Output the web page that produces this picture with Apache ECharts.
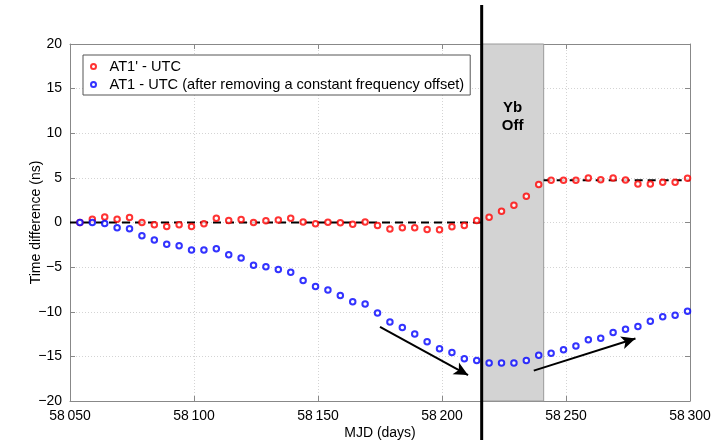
<!DOCTYPE html>
<html>
<head>
<meta charset="utf-8">
<script src="https://cdn.jsdelivr.net/npm/echarts@6/dist/echarts.min.js"></script>
<style>
  html, body { margin: 0; padding: 0; background: #fff; }
  #chart { width: 715px; height: 445px; }
</style>
</head>
<body>
<div id="chart"></div>
<script>
// MJD sampling dates (every 5 days)
const mjd = [
  58054, 58059, 58064, 58069, 58074, 58079, 58084, 58089, 58094, 58099,
  58104, 58109, 58114, 58119, 58124, 58129, 58134, 58139, 58144, 58149,
  58154, 58159, 58164, 58169, 58174, 58179, 58184, 58189, 58194, 58199,
  58204, 58209, 58214, 58219, 58224, 58229, 58234, 58239, 58244, 58249,
  58254, 58259, 58264, 58269, 58274, 58279, 58284, 58289, 58294, 58299
];
// AT1' - UTC (ns)
const at1Prime = [
  0, 0.37, 0.63, 0.37, 0.56, 0, -0.26, -0.45, -0.26, -0.45,
  -0.15, 0.48, 0.22, 0.33, 0, 0.19, 0.28, 0.48, 0.07, -0.15,
  0.04, -0.04, -0.19, 0.07, -0.33, -0.74, -0.59, -0.59, -0.78, -0.82,
  -0.48, -0.33, 0.22, 0.6, 1.27, 1.94, 2.94, 4.25, 4.73, 4.73,
  4.73, 4.98, 4.8, 4.98, 4.76, 4.31, 4.31, 4.5, 4.5, 4.95
];
// AT1 - UTC after removing a constant frequency offset (ns)
const at1 = [
  0, 0, -0.11, -0.59, -0.71, -1.49, -1.97, -2.45, -2.6, -3.09,
  -3.08, -2.95, -3.62, -3.97, -4.8, -4.95, -5.27, -5.57, -6.5, -7.17,
  -7.57, -8.17, -8.87, -9.13, -10.13, -11.14, -11.77, -12.48, -13.37, -14.15,
  -14.56, -15.26, -15.47, -15.75, -15.75, -15.75, -15.45, -14.86, -14.64, -14.26,
  -13.85, -13.15, -12.96, -12.33, -11.96, -11.66, -11.07, -10.55, -10.4, -9.95
];
// constant fits (dashed)
const fitBefore = [[58050, 0], [58216, 0]];
const fitAfter = [[58241, 4.73], [58300, 4.73]];
// Yb off interval
const ybOff = [58216, 58241];
// arrows [from, to]
const arrowDown = [[58175, -11.7], [58210.5, -17.1]];
const arrowUp = [[58237, -16.6], [58278, -13.0]];
// axis ticks
const xTicks = [58050, 58100, 58150, 58200, 58250, 58300];
const yTicks = [-20, -15, -10, -5, 0, 5, 10, 15, 20];

const font = "'Liberation Sans', Arial, sans-serif";
const chart = echarts.init(document.getElementById("chart"));

const zip = (xs, ys) => xs.map((x, i) => [x, ys[i]]);

const option = {
  animation: false,
  backgroundColor: "#fff",
  textStyle: { fontFamily: font },
  grid: { left: 70, right: 25, top: 44, bottom: 42 },
  legend: {
    data: ["AT1' - UTC", "AT1 - UTC (after removing a constant frequency offset)"],
    orient: "vertical",
    left: 83,
    top: 55,
    padding: [4, 6, 3, 7],
    itemGap: 3,
    itemWidth: 22,
    itemHeight: 5,
    backgroundColor: "#fff",
    borderColor: "#555",
    borderWidth: 1,
    textStyle: { fontFamily: font, fontSize: 14.6, color: "#000" }
  },
  xAxis: [
    {
      type: "value",
      min: xTicks[0],
      max: xTicks[xTicks.length - 1],
      interval: 50,
      name: "MJD (days)",
      nameLocation: "middle",
      nameGap: 25,
      nameMoveOverlap: false,
      nameTextStyle: { fontFamily: font, fontSize: 14, color: "#000" },
      axisLine: { show: true, onZero: false, lineStyle: { color: "#888", width: 1 } },
      axisTick: { inside: true, length: 5, lineStyle: { color: "#888" } },
      axisLabel: {
        fontFamily: font,
        fontSize: 14,
        color: "#000",
        margin: 8,
        formatter: (v) => String(v).replace(/(\d{2})(\d{3})/, "$1\u2009$2")
      },
      splitLine: { show: true, lineStyle: { color: "#d4d4d4", type: [1, 2] } }
    },
    {
      type: "value",
      position: "top",
      min: xTicks[0],
      max: xTicks[xTicks.length - 1],
      interval: 50,
      axisLine: { show: true, onZero: false, lineStyle: { color: "#888", width: 1 } },
      axisTick: { inside: true, length: 5, lineStyle: { color: "#888" } },
      axisLabel: { show: false },
      splitLine: { show: false }
    }
  ],
  yAxis: [
    {
      type: "value",
      min: yTicks[0],
      max: yTicks[yTicks.length - 1],
      interval: 5,
      name: "Time difference (ns)",
      nameLocation: "middle",
      nameGap: 27,
      nameMoveOverlap: false,
      nameTextStyle: { fontFamily: font, fontSize: 14, color: "#000" },
      axisLine: { show: true, onZero: false, lineStyle: { color: "#888", width: 1 } },
      axisTick: { inside: true, length: 5, lineStyle: { color: "#888" } },
      axisLabel: {
        fontFamily: font,
        fontSize: 14,
        color: "#000",
        margin: 8,
        formatter: (v) => (v < 0 ? "\u2212" + Math.abs(v) : String(v))
      },
      splitLine: { show: true, lineStyle: { color: "#d4d4d4", type: [1, 2] } }
    },
    {
      type: "value",
      position: "right",
      min: yTicks[0],
      max: yTicks[yTicks.length - 1],
      interval: 5,
      axisLine: { show: true, onZero: false, lineStyle: { color: "#888", width: 1 } },
      axisTick: { inside: true, length: 5, lineStyle: { color: "#888" } },
      axisLabel: { show: false },
      splitLine: { show: false }
    }
  ],
  series: [
    {
      name: "shade",
      type: "line",
      data: [],
      silent: true,
      markArea: {
        silent: true,
        itemStyle: { color: "#d3d3d3", borderColor: "#9a9a9a", borderWidth: 1 },
        label: {
          show: true,
          position: "insideTop",
          distance: 55,
          formatter: "Yb\nOff",
          fontFamily: font,
          fontSize: 15,
          fontWeight: "bold",
          lineHeight: 18,
          color: "#000"
        },
        data: [[{ xAxis: ybOff[0] }, { xAxis: ybOff[1] }]]
      }
    },
    {
      name: "fitBefore",
      type: "line",
      data: fitBefore,
      symbol: "none",
      silent: true,
      lineStyle: { color: "#000", width: 2, type: [8, 5] },
      z: 2
    },
    {
      name: "fitAfter",
      type: "line",
      data: fitAfter,
      symbol: "none",
      silent: true,
      lineStyle: { color: "#000", width: 2, type: [8, 5] },
      z: 2
    },
    {
      name: "AT1' - UTC",
      type: "scatter",
      data: zip(mjd, at1Prime),
      symbol: "emptyCircle",
      symbolSize: 5.5,
      itemStyle: { color: "#ff0000", borderWidth: 2 },
      z: 3
    },
    {
      name: "AT1 - UTC (after removing a constant frequency offset)",
      type: "scatter",
      data: zip(mjd, at1),
      symbol: "emptyCircle",
      symbolSize: 5.5,
      itemStyle: { color: "#0000ff", borderWidth: 2 },
      z: 4,
      markLine: {
        silent: true,
        symbol: ["none", "arrow"],
        symbolSize: [10, 14],
        label: { show: false },
        lineStyle: { color: "#000", width: 2, type: "solid" },
        data: [
          [{ coord: arrowDown[0] }, { coord: arrowDown[1] }],
          [{ coord: arrowUp[0] }, { coord: arrowUp[1] }]
        ]
      }
    }
  ]
};

chart.setOption(option);

// thick vertical marker at Yb switch-off, running past the plot frame
const xOff = chart.convertToPixel({ xAxisIndex: 0 }, ybOff[0]);
chart.setOption({
  graphic: [
    {
      type: "line",
      shape: { x1: xOff, y1: 5, x2: xOff, y2: 440 },
      style: { stroke: "#000", lineWidth: 3 },
      z: 100
    }
  ]
});
</script>
</body>
</html>
